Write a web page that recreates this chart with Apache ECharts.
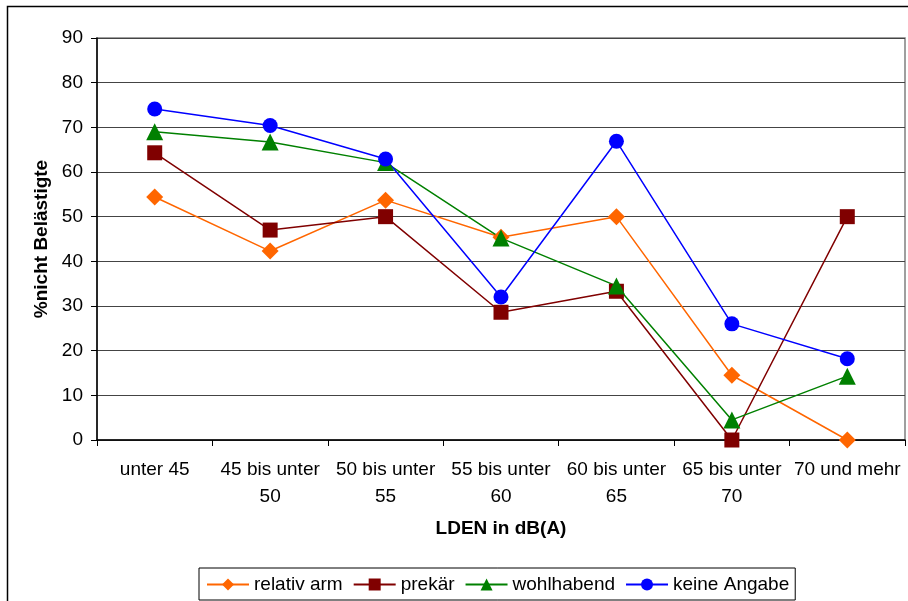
<!DOCTYPE html>
<html><head><meta charset="utf-8">
<script src="https://cdn.jsdelivr.net/npm/echarts@6/dist/echarts.min.js"></script>
<style>html,body{margin:0;padding:0;background:#fff}#c{width:908px;height:601px}</style>
</head><body><div id="c"></div>
<script>
const categories = ['unter 45','45 bis unter\n50','50 bis unter\n55','55 bis unter\n60','60 bis unter\n65','65 bis unter\n70','70 und mehr'];
const relativArm = [54.4, 42.3, 53.7, 45.4, 50.0, 14.5, 0];
const prekaer = [64.3, 47.0, 50.0, 28.6, 33.3, 0, 50.0];
const wohlhabend = [69.0, 66.7, 62.1, 45.2, 34.5, 4.5, 14.3];
const keineAngabe = [74.1, 70.4, 62.9, 32.0, 66.9, 26.0, 18.2];
const yTicks = [0,10,20,30,40,50,60,70,80,90];

const font = 'Liberation Sans, Arial, sans-serif';
function mk(name, data, color, symbol, size){
  return {name, type:'line', data, symbol, symbolSize:size, showSymbol:true,
    lineStyle:{color, width:1.5}, itemStyle:{color}, animation:false};
}
const chart = echarts.init(document.getElementById('c'), null, {renderer:'canvas'});
chart.setOption({
  animation:false,
  textStyle:{fontFamily:font},
  graphic:[{type:'rect', shape:{x:7.5,y:6.5,width:920,height:620}, style:{fill:null, stroke:'#000', lineWidth:1.5}, silent:true, z:-1}],
  grid:{left:97, right:3, top:38, bottom:161, show:true, borderColor:'#808080', borderWidth:1.5},
  legend:{bottom:1, left:199, itemGap:10, itemWidth:42, itemHeight:15,
    borderColor:'#000', borderWidth:1, padding:[7,6,6,7],
    textStyle:{fontSize:19, color:'#000', fontFamily:font},
    data:['relativ arm','prekär','wohlhabend','keine Angabe']},
  xAxis:{type:'category', data:categories, boundaryGap:true,
    axisLine:{lineStyle:{color:'#000', width:1.5}},
    axisTick:{show:true, length:6, lineStyle:{color:'#000'}},
    axisLabel:{color:'#000', fontSize:19, margin:16, lineHeight:27, interval:0},
    name:'LDEN in dB(A)', nameLocation:'middle', nameGap:79,
    nameTextStyle:{fontWeight:'bold', fontSize:19, color:'#000'}},
  yAxis:{type:'value', min:0, max:90, interval:10,
    axisLine:{show:true, lineStyle:{color:'#000', width:1.5}},
    axisTick:{show:true, length:6, lineStyle:{color:'#000'}},
    splitLine:{lineStyle:{color:'#444', width:1.2}},
    axisLabel:{color:'#000', fontSize:19, margin:14, formatter:v=>yTicks.includes(v)?String(v):''},
    name:'%nicht Belästigte', nameLocation:'middle', nameGap:46, nameRotate:90,
    nameTextStyle:{fontWeight:'bold', fontSize:19, color:'#000'}},
  series:[
    mk('relativ arm', relativArm, '#FF6600', 'diamond', 17),
    mk('prekär', prekaer, '#800000', 'rect', 15),
    mk('wohlhabend', wohlhabend, '#008000', 'triangle', 17),
    mk('keine Angabe', keineAngabe, '#0000FF', 'circle', 15)
  ]
});
</script></body></html>
